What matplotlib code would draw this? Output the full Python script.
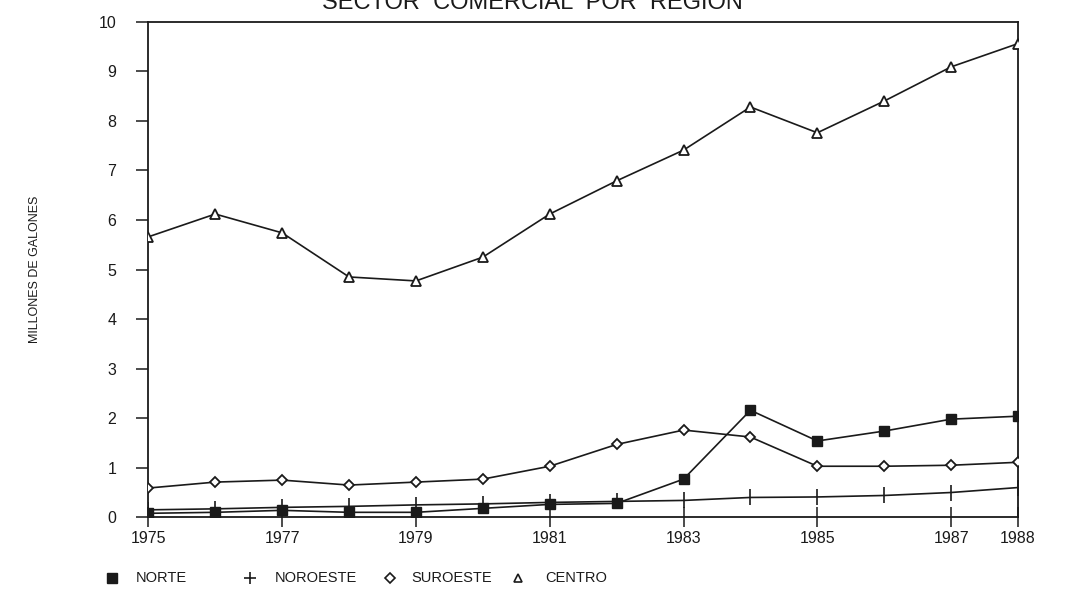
import matplotlib.pyplot as plt
from matplotlib.lines import Line2D

# Data (millones de galones)
years = list(range(1975, 1989))
norte = [0.08, 0.10, 0.14, 0.10, 0.10, 0.18, 0.26, 0.28, 0.77, 2.16, 1.54, 1.74, 1.98, 2.04]
noroeste = [0.15, 0.17, 0.20, 0.22, 0.25, 0.27, 0.30, 0.32, 0.34, 0.40, 0.41, 0.44, 0.50, 0.60]
suroeste = [0.59, 0.71, 0.75, 0.65, 0.71, 0.77, 1.03, 1.47, 1.76, 1.62, 1.03, 1.03, 1.05, 1.11]
centro = [5.66, 6.12, 5.74, 4.85, 4.77, 5.25, 6.12, 6.79, 7.41, 8.28, 7.76, 8.40, 9.09, 9.56]

xtick_years = [1975, 1977, 1979, 1981, 1983, 1985, 1987, 1988]
yticks = list(range(0, 11))
labels = ['NORTE', 'NOROESTE', 'SUROESTE', 'CENTRO']

plt.rcParams['font.family'] = ['Liberation Sans', 'DejaVu Sans']
ink = '#1a1a1a'

fig = plt.figure(figsize=(10.75, 6.05), dpi=100)
ax = fig.add_axes([0.138, 0.145, 0.809, 0.819])

ax.plot(years, centro, color=ink, lw=1.2, marker='^', ms=7.5, mfc='white', mec=ink, mew=1.3, zorder=3)
ax.plot(years, suroeste, color=ink, lw=1.2, marker='D', ms=5, mfc='white', mec=ink, mew=1.3, zorder=3)
ax.plot(years, noroeste, color=ink, lw=1.2, marker='|', ms=12, mec=ink, mew=1.2, zorder=3)
ax.plot(years, norte, color=ink, lw=1.2, marker='s', ms=7, mfc=ink, mec=ink, zorder=4)

ax.set_xlim(1975, 1988)
ax.set_ylim(0, 10)
ax.set_xticks(xtick_years)
ax.set_xticklabels([str(y) for y in xtick_years], fontsize=11.5)
ax.set_yticks(yticks)
ax.set_yticklabels([str(v) for v in yticks], fontsize=11.5)
ax.tick_params(axis='y', direction='out', length=9, width=1.1, pad=14, colors=ink)
ax.tick_params(axis='x', direction='inout', length=14, width=1.1, pad=3, colors=ink)
for s in ax.spines.values():
    s.set_color(ink)
    s.set_linewidth(1.3)

fig.text(0.033, 0.555, 'MILLONES DE GALONES', rotation=90, ha='center', va='center',
         fontsize=9, color=ink)

# the scan cuts the title off at the top edge
fig.text(0.30, 0.985, 'SECTOR  COMERCIAL  POR  REGION', ha='left', va='baseline',
         fontsize=17, color=ink)

# legend drawn by hand so that the symbols sit at the same places as in the scan
legend_marks = [
    dict(marker='s', ms=7, mfc=ink, mec=ink),
    dict(marker='+', ms=8, mec=ink, mew=1.2),
    dict(marker='D', ms=5, mfc='white', mec=ink, mew=1.2),
    dict(marker='^', ms=6, mfc='white', mec=ink, mew=1.2),
]
mark_x = [0.104, 0.233, 0.363, 0.482]
text_x = [0.126, 0.256, 0.383, 0.507]
leg_y = 0.045
for mk, mx, tx, lab in zip(legend_marks, mark_x, text_x, labels):
    fig.add_artist(Line2D([mx], [leg_y], ls='none', transform=fig.transFigure, **mk))
    fig.text(tx, leg_y, lab, ha='left', va='center', fontsize=10.5, color=ink)

fig.savefig('out.png', dpi=100)
